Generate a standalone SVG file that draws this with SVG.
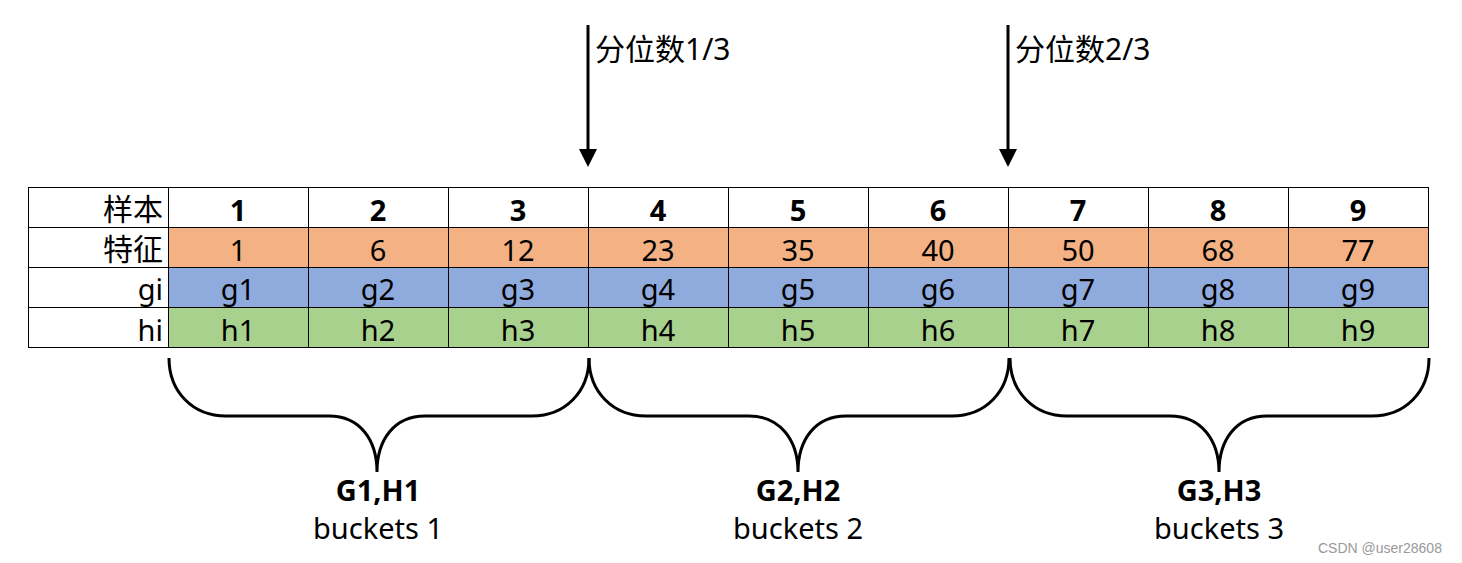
<svg xmlns="http://www.w3.org/2000/svg" width="1462" height="563" viewBox="0 0 1462 563">
<style>
text{font-family:"Noto Sans","Noto Sans CJK SC",sans-serif;font-size:29px;fill:#000}
.zh{font-size:30px}
.c{text-anchor:middle}
.r{text-anchor:end}
.b{font-weight:bold}
.cell{stroke:#000;stroke-width:1}
.w{fill:#fff}.o{fill:#F4B183}.bl{fill:#8FAADC}.g{fill:#A9D18E}
.brace{fill:none;stroke:#000;stroke-width:3}
.arr{stroke:#000;stroke-width:3}
.wm{font-family:"Liberation Sans",sans-serif;font-size:14px;fill:#999}
</style>
<rect width="1462" height="563" fill="#fff"/>
<g id="table">
<g id="row-sample">
<rect class="cell w" x="28.5" y="187.5" width="140" height="40"/>
<rect class="cell w" x="168.5" y="187.5" width="140" height="40"/>
<rect class="cell w" x="308.5" y="187.5" width="140" height="40"/>
<rect class="cell w" x="448.5" y="187.5" width="140" height="40"/>
<rect class="cell w" x="588.5" y="187.5" width="140" height="40"/>
<rect class="cell w" x="728.5" y="187.5" width="140" height="40"/>
<rect class="cell w" x="868.5" y="187.5" width="140" height="40"/>
<rect class="cell w" x="1008.5" y="187.5" width="140" height="40"/>
<rect class="cell w" x="1148.5" y="187.5" width="140" height="40"/>
<rect class="cell w" x="1288.5" y="187.5" width="140" height="40"/>
<text class="r zh" x="163" y="220">样本</text>
<text class="c b" x="238" y="221">1</text>
<text class="c b" x="378" y="221">2</text>
<text class="c b" x="518" y="221">3</text>
<text class="c b" x="658" y="221">4</text>
<text class="c b" x="798" y="221">5</text>
<text class="c b" x="938" y="221">6</text>
<text class="c b" x="1078" y="221">7</text>
<text class="c b" x="1218" y="221">8</text>
<text class="c b" x="1358" y="221">9</text>
</g>
<g id="row-feature">
<rect class="cell w" x="28.5" y="227.5" width="140" height="40"/>
<rect class="cell o" x="168.5" y="227.5" width="140" height="40"/>
<rect class="cell o" x="308.5" y="227.5" width="140" height="40"/>
<rect class="cell o" x="448.5" y="227.5" width="140" height="40"/>
<rect class="cell o" x="588.5" y="227.5" width="140" height="40"/>
<rect class="cell o" x="728.5" y="227.5" width="140" height="40"/>
<rect class="cell o" x="868.5" y="227.5" width="140" height="40"/>
<rect class="cell o" x="1008.5" y="227.5" width="140" height="40"/>
<rect class="cell o" x="1148.5" y="227.5" width="140" height="40"/>
<rect class="cell o" x="1288.5" y="227.5" width="140" height="40"/>
<text class="r zh" x="163" y="260">特征</text>
<text class="c" x="238" y="261">1</text>
<text class="c" x="378" y="261">6</text>
<text class="c" x="518" y="261">12</text>
<text class="c" x="658" y="261">23</text>
<text class="c" x="798" y="261">35</text>
<text class="c" x="938" y="261">40</text>
<text class="c" x="1078" y="261">50</text>
<text class="c" x="1218" y="261">68</text>
<text class="c" x="1358" y="261">77</text>
</g>
<g id="row-gi">
<rect class="cell w" x="28.5" y="267.5" width="140" height="40"/>
<rect class="cell bl" x="168.5" y="267.5" width="140" height="40"/>
<rect class="cell bl" x="308.5" y="267.5" width="140" height="40"/>
<rect class="cell bl" x="448.5" y="267.5" width="140" height="40"/>
<rect class="cell bl" x="588.5" y="267.5" width="140" height="40"/>
<rect class="cell bl" x="728.5" y="267.5" width="140" height="40"/>
<rect class="cell bl" x="868.5" y="267.5" width="140" height="40"/>
<rect class="cell bl" x="1008.5" y="267.5" width="140" height="40"/>
<rect class="cell bl" x="1148.5" y="267.5" width="140" height="40"/>
<rect class="cell bl" x="1288.5" y="267.5" width="140" height="40"/>
<text class="r" x="163" y="300">gi</text>
<text class="c" x="238" y="300">g1</text>
<text class="c" x="378" y="300">g2</text>
<text class="c" x="518" y="300">g3</text>
<text class="c" x="658" y="300">g4</text>
<text class="c" x="798" y="300">g5</text>
<text class="c" x="938" y="300">g6</text>
<text class="c" x="1078" y="300">g7</text>
<text class="c" x="1218" y="300">g8</text>
<text class="c" x="1358" y="300">g9</text>
</g>
<g id="row-hi">
<rect class="cell w" x="28.5" y="307.5" width="140" height="40"/>
<rect class="cell g" x="168.5" y="307.5" width="140" height="40"/>
<rect class="cell g" x="308.5" y="307.5" width="140" height="40"/>
<rect class="cell g" x="448.5" y="307.5" width="140" height="40"/>
<rect class="cell g" x="588.5" y="307.5" width="140" height="40"/>
<rect class="cell g" x="728.5" y="307.5" width="140" height="40"/>
<rect class="cell g" x="868.5" y="307.5" width="140" height="40"/>
<rect class="cell g" x="1008.5" y="307.5" width="140" height="40"/>
<rect class="cell g" x="1148.5" y="307.5" width="140" height="40"/>
<rect class="cell g" x="1288.5" y="307.5" width="140" height="40"/>
<text class="r" x="163" y="341">hi</text>
<text class="c" x="238" y="341">h1</text>
<text class="c" x="378" y="341">h2</text>
<text class="c" x="518" y="341">h3</text>
<text class="c" x="658" y="341">h4</text>
<text class="c" x="798" y="341">h5</text>
<text class="c" x="938" y="341">h6</text>
<text class="c" x="1078" y="341">h7</text>
<text class="c" x="1218" y="341">h8</text>
<text class="c" x="1358" y="341">h9</text>
</g>
</g>
<g id="quantile1">
<text class="zh" x="595" y="60">分位数1/3</text>
</g>
<g id="quantile2">
<text class="zh" x="1015" y="60">分位数2/3</text>
</g>
<g id="connectors">
<line class="arr" x1="588" y1="25" x2="588" y2="152"/>
<polygon points="579,149 597,149 588,167" fill="#000"/>
<line class="arr" x1="1008" y1="25" x2="1008" y2="152"/>
<polygon points="999,149 1017,149 1008,167" fill="#000"/>
<path class="brace" d="M169,358 C169,392 193,416 226,416 H329 C360,416 377,440 377,472 C377,440 394,416 425,416 H532 C565,416 589,392 589,358"/>
<path class="brace" d="M589,358 C589,392 613,416 646,416 H749 C780,416 798,440 798,472 C798,440 815,416 846,416 H952 C985,416 1009,392 1009,358"/>
<path class="brace" d="M1010,358 C1010,392 1034,416 1067,416 H1170 C1201,416 1219,440 1219,472 C1219,440 1236,416 1267,416 H1372 C1405,416 1429,392 1429,358"/>
</g>
<g id="bucket1">
<text class="c b" x="378" y="501">G1,H1</text>
<text class="c" x="378" y="539">buckets 1</text>
</g>
<g id="bucket2">
<text class="c b" x="798" y="501">G2,H2</text>
<text class="c" x="798" y="539">buckets 2</text>
</g>
<g id="bucket3">
<text class="c b" x="1219" y="501">G3,H3</text>
<text class="c" x="1219" y="539">buckets 3</text>
</g>
<text class="wm" x="1318" y="553">CSDN @user28608</text>
</svg>
